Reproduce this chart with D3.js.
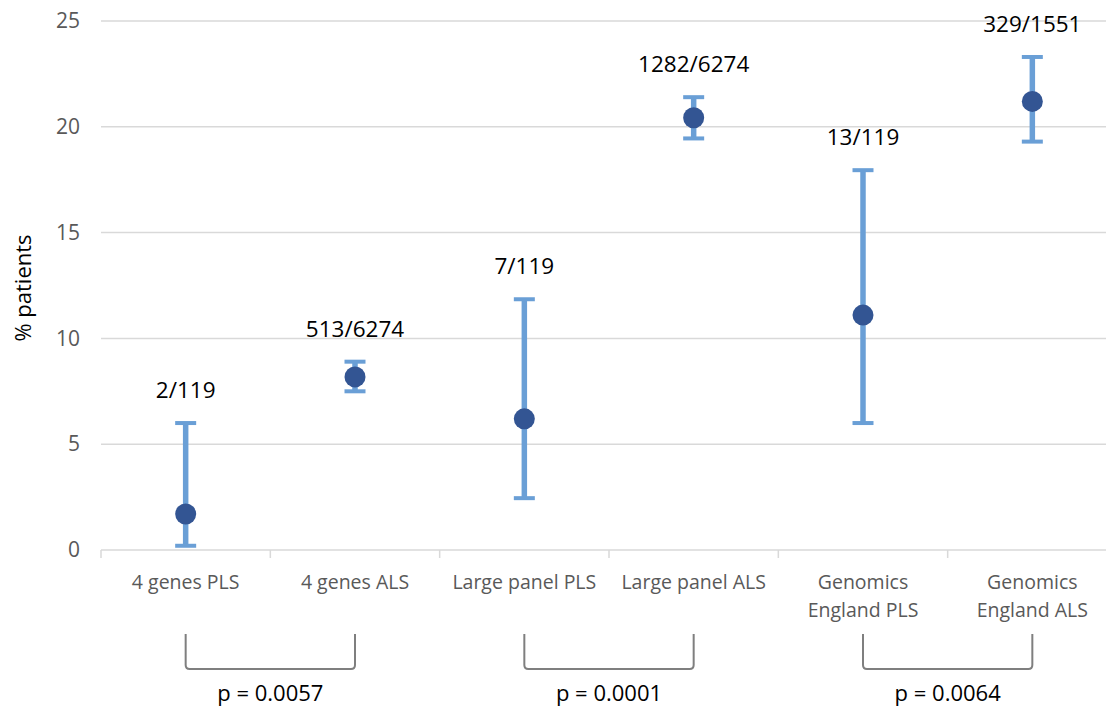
<!DOCTYPE html>
<html>
<head>
<meta charset="utf-8">
<script src="https://cdn.jsdelivr.net/npm/d3@7"></script>
<style>
  body { margin: 0; background: #fff; }
  svg { display: block; font-family: "Open Sans", sans-serif; }
</style>
</head>
<body>
<svg id="chart" width="1106" height="709"></svg>
<script>
// data
var categories = ["4 genes PLS", "4 genes ALS", "Large panel PLS", "Large panel ALS", "Genomics\nEngland PLS", "Genomics\nEngland ALS"];
var percents = [1.7, 8.18, 6.2, 20.43, 11.1, 21.2];
var lowerCI = [0.2, 7.5, 2.45, 19.45, 6.0, 19.3];
var upperCI = [6.0, 8.9, 11.85, 21.4, 17.95, 23.3];
var counts = ["2/119", "513/6274", "7/119", "1282/6274", "13/119", "329/1551"];
var yTicks = [0, 5, 10, 15, 20, 25];
var pairs = [[0, 1], [2, 3], [4, 5]];
var pLabels = ["p = 0.0057", "p = 0.0001", "p = 0.0064"];

var svg = d3.select("#chart");

var x = d3.scaleBand().domain(categories).range([101, 1117]);
var y = d3.scaleLinear().domain([0, 25]).range([550, 21]);
var cx = function(i){ return x(categories[i]) + x.bandwidth() / 2; };

// gridlines
svg.append("g")
    .selectAll("line")
    .data(yTicks.filter(function(t){ return t > 0; }))
    .join("line")
    .attr("x1", 101).attr("x2", 1106)
    .attr("y1", function(d){ return y(d); })
    .attr("y2", function(d){ return y(d); })
    .attr("stroke", "#d9d9d9")
    .attr("stroke-width", 1.5);

// y axis labels
var yAxis = d3.axisLeft(y).tickValues(yTicks).tickSize(0).tickPadding(0);
var gy = svg.append("g").attr("transform", "translate(80,0)").call(yAxis);
gy.select(".domain").remove();
gy.selectAll("text")
    .attr("font-family", "Open Sans")
    .attr("font-size", 21)
    .attr("fill", "#595959");

// x axis line and ticks at band edges
var edges = categories.map(function(c){ return x(c); }).concat([x.range()[1]]);
svg.append("line")
    .attr("x1", 101).attr("x2", 1106)
    .attr("y1", y(0)).attr("y2", y(0))
    .attr("stroke", "#d9d9d9").attr("stroke-width", 1.5);
svg.append("g")
    .selectAll("line")
    .data(edges)
    .join("line")
    .attr("x1", function(d){ return d; }).attr("x2", function(d){ return d; })
    .attr("y1", y(0)).attr("y2", y(0) + 8)
    .attr("stroke", "#d9d9d9").attr("stroke-width", 1.5);

// category labels
svg.append("g")
    .selectAll("text")
    .data(categories)
    .join("text")
    .attr("x", function(d){ return x(d) + x.bandwidth() / 2; })
    .attr("y", 589)
    .attr("text-anchor", "middle")
    .attr("font-size", 19.5)
    .attr("fill", "#595959")
    .each(function(d){
        var lines = d.split("\n");
        var t = d3.select(this);
        lines.forEach(function(l, k){
            t.append("tspan")
                .attr("x", t.attr("x"))
                .attr("dy", k == 0 ? 0 : 28)
                .text(l);
        });
    });

// y axis title
svg.append("text")
    .attr("transform", "translate(31,288) rotate(-90)")
    .attr("text-anchor", "middle")
    .attr("font-size", 22)
    .attr("fill", "#000")
    .text("% patients");

// error bars
var eb = svg.append("g").attr("stroke", "#6a9fd6");
categories.forEach(function(c, i){
    eb.append("line")
        .attr("x1", cx(i)).attr("x2", cx(i))
        .attr("y1", y(lowerCI[i])).attr("y2", y(upperCI[i]))
        .attr("stroke-width", 5.5);
    [lowerCI[i], upperCI[i]].forEach(function(v){
        eb.append("line")
            .attr("x1", cx(i) - 10.5).attr("x2", cx(i) + 10.5)
            .attr("y1", y(v)).attr("y2", y(v))
            .attr("stroke-width", 4);
    });
});

// points
svg.append("g")
    .selectAll("circle")
    .data(percents)
    .join("circle")
    .attr("cx", function(d, i){ return cx(i); })
    .attr("cy", function(d){ return y(d); })
    .attr("r", 10.5)
    .attr("fill", "#335593");

// count labels above the bars
svg.append("g")
    .selectAll("text")
    .data(counts)
    .join("text")
    .attr("x", function(d, i){ return cx(i); })
    .attr("y", function(d, i){ return y(upperCI[i]) - 25; })
    .attr("text-anchor", "middle")
    .attr("font-size", 22.5)
    .attr("fill", "#000")
    .text(function(d){ return d; });

// comparison brackets
pairs.forEach(function(p, k){
    var x1 = cx(p[0]), x2 = cx(p[1]);
    var top = 634, bot = 669, r = 4;
    svg.append("path")
        .attr("d", "M" + x1 + "," + top + " L" + x1 + "," + (bot - r) +
                   " Q" + x1 + "," + bot + " " + (x1 + r) + "," + bot +
                   " L" + (x2 - r) + "," + bot +
                   " Q" + x2 + "," + bot + " " + x2 + "," + (bot - r) +
                   " L" + x2 + "," + top)
        .attr("fill", "none")
        .attr("stroke", "#7f7f7f")
        .attr("stroke-width", 2);
    svg.append("text")
        .attr("x", (x1 + x2) / 2)
        .attr("y", 701)
        .attr("text-anchor", "middle")
        .attr("font-size", 22)
        .attr("fill", "#000")
        .text(pLabels[k]);
});
</script>
</body>
</html>
